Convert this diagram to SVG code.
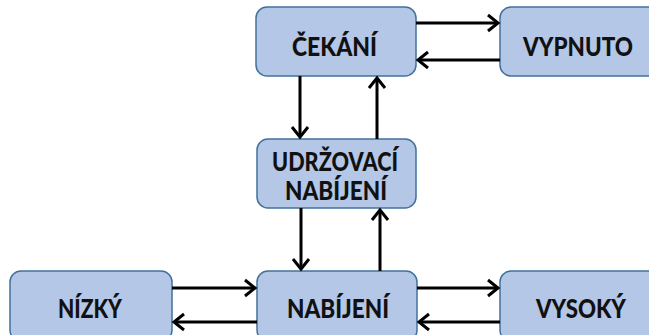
<svg xmlns="http://www.w3.org/2000/svg" width="649" height="335" viewBox="0 0 649 335">
<style>
.box{fill:#B4C7E7;stroke:#41719C;stroke-width:1.5}
.lbl{font-family:Lato,"Open Sans","Liberation Sans",sans-serif;font-weight:900;font-size:27px;fill:#111;text-anchor:middle}
.c{stroke:#000;stroke-width:3;fill:none;marker-end:url(#ah)}
</style>
<defs>
<marker id="ah" markerUnits="userSpaceOnUse" markerWidth="16" markerHeight="20" viewBox="-12 -10 14 20" refX="0" refY="0" orient="auto">
<path d="M-10,-8 L0,0 L-10,8" fill="none" stroke="#000" stroke-width="3"/>
</marker>
</defs>
<rect width="649" height="335" fill="#fff"/>
<g id="cekani"><rect class="box" x="256" y="7" width="160" height="69" rx="11"/><text class="lbl" x="334.5" y="56" textLength="85" lengthAdjust="spacingAndGlyphs">ČEKÁNÍ</text></g>
<g id="vypnuto"><rect class="box" x="500" y="7" width="160" height="69" rx="11"/><text class="lbl" x="578" y="56" textLength="110" lengthAdjust="spacingAndGlyphs">VYPNUTO</text></g>
<g id="udrzovaci"><rect class="box" x="257" y="139" width="159" height="69" rx="11"/><text class="lbl" x="335" y="171" textLength="126" lengthAdjust="spacingAndGlyphs">UDRŽOVACÍ</text><text class="lbl" x="336" y="200" textLength="102" lengthAdjust="spacingAndGlyphs">NABÍJENÍ</text></g>
<g id="nizky"><rect class="box" x="10" y="271" width="162" height="70" rx="11"/><text class="lbl" x="90" y="318" textLength="64" lengthAdjust="spacingAndGlyphs">NÍZKÝ</text></g>
<g id="nabijeni"><rect class="box" x="257" y="271" width="160" height="70" rx="11"/><text class="lbl" x="338" y="318" textLength="102" lengthAdjust="spacingAndGlyphs">NABÍJENÍ</text></g>
<g id="vysoky"><rect class="box" x="500" y="271" width="160" height="70" rx="11"/><text class="lbl" x="581" y="318" textLength="90" lengthAdjust="spacingAndGlyphs">VYSOKÝ</text></g>
<g id="connectors">
<path class="c" d="M416,23 H498"/>
<path class="c" d="M500,60 H418"/>
<path class="c" d="M300,76 V137"/>
<path class="c" d="M377,139 V78"/>
<path class="c" d="M301,208 V269"/>
<path class="c" d="M380,271 V210"/>
<path class="c" d="M172,288 H255"/>
<path class="c" d="M257,322 H174"/>
<path class="c" d="M417,288 H498"/>
<path class="c" d="M500,322 H419"/>
</g>
</svg>
